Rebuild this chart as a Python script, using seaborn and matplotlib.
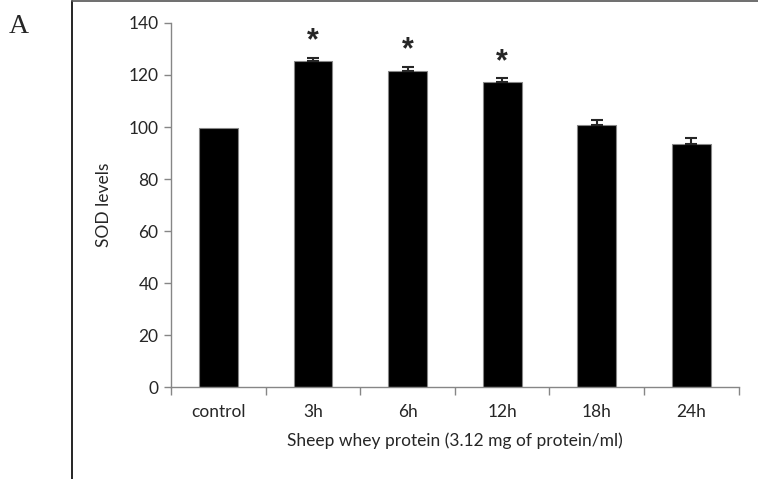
import numpy as np
import pandas as pd
import matplotlib
matplotlib.use("Agg")
import matplotlib.pyplot as plt
from matplotlib.lines import Line2D
import seaborn as sns

# values
groups = ["control", "3h", "6h", "12h", "18h", "24h"]
sod_mean = [99.6, 125.4, 121.5, 117.2, 100.9, 93.3]
sod_err = [0.0, 1.1, 1.7, 1.5, 1.9, 2.3]
significant = [False, True, True, True, False, False]

df = pd.DataFrame({"group": groups, "sod": sod_mean})

sns.set_style("white")
plt.rcParams["font.family"] = ["Lato", "DejaVu Sans"]

axis_gray = "#868686"
fs = 12.5

fig = plt.figure(figsize=(7.58, 4.79), dpi=100)
ax = fig.add_axes([0.2256, 0.192, 0.749, 0.76])

sns.barplot(data=df, x="group", y="sod", color="black", edgecolor=axis_gray,
            linewidth=0.8, width=0.41, saturation=1, errorbar=None, ax=ax)

# upward-only error bars, skip groups without an error value
x = np.arange(len(groups))
has_err = np.array(sod_err) > 0
ax.errorbar(x[has_err], np.array(sod_mean)[has_err],
            yerr=[np.zeros(has_err.sum()), np.array(sod_err)[has_err]], fmt="none",
            ecolor="#262626", elinewidth=1.5, capsize=4, capthick=1.5)

for xi, m, e, s in zip(x, sod_mean, sod_err, significant):
    if s:
        ax.annotate("*", (xi, m + e), xytext=(0, 1), textcoords="offset points",
                    ha="center", va="bottom", fontsize=22, fontweight="bold",
                    fontfamily="Liberation Sans")

ax.set_ylim(0, 140)
ax.set_yticks(range(0, 141, 20))
ax.set_xlim(-0.5, len(groups) - 0.5)
ax.set_xticks(x)
ax.set_xticklabels(groups)
ax.set_xticks(np.arange(-0.5, len(groups)), minor=True)

for side in ["top", "right"]:
    ax.spines[side].set_visible(False)
for side in ["left", "bottom"]:
    ax.spines[side].set_color(axis_gray)
    ax.spines[side].set_linewidth(1.0)

ax.tick_params(axis="y", which="major", direction="out", length=5, color=axis_gray,
               width=1.0, left=True, labelsize=fs, pad=4)
ax.tick_params(axis="x", which="major", length=0, labelsize=fs, pad=12)
ax.tick_params(axis="x", which="minor", direction="out", length=6, color=axis_gray,
               width=1.0, bottom=True)

ax.set_xlabel("Sheep whey protein (3.12 mg of protein/ml)", fontsize=fs, labelpad=9)
ax.set_ylabel("SOD levels", fontsize=fs, labelpad=12)

# panel frame and letter
fig.add_artist(Line2D([0.095, 0.095], [0, 0.998], color="black", lw=1.2,
                      transform=fig.transFigure))
fig.add_artist(Line2D([0.095, 1.0], [0.998, 0.998], color="#555555", lw=1.2,
                      transform=fig.transFigure))
fig.text(0.012, 0.945, "A", fontsize=20, fontfamily="Liberation Serif", va="center")

fig.savefig("out.png", dpi=100)
